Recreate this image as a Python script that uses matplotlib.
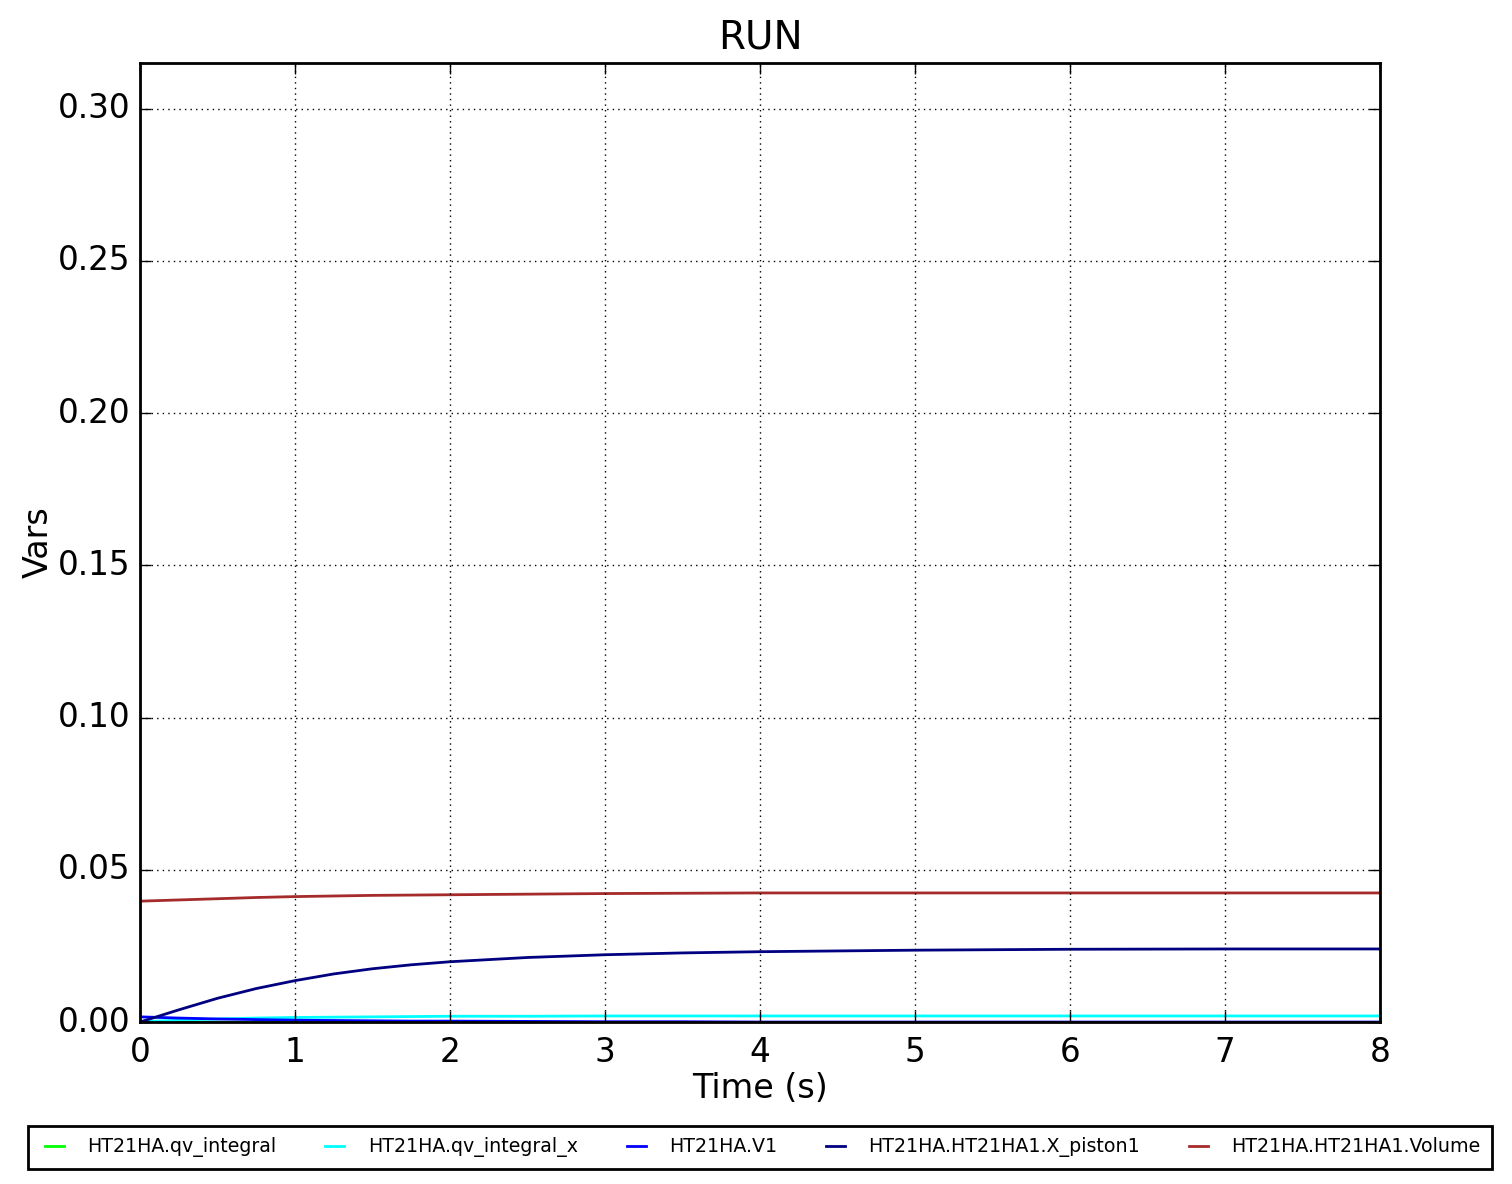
import matplotlib
matplotlib.use("Agg")
import matplotlib.pyplot as plt
from matplotlib.ticker import FormatStrFormatter

plt.style.use("classic")

# sample times (s)
time_s = [0, 0.25, 0.5, 0.75, 1, 1.25, 1.5, 1.75, 2, 2.5, 3, 3.5, 4, 5, 6, 7, 8]

qv_integral = [0] * len(time_s)
qv_integral_x = [0.0001, 0.0006, 0.0010, 0.0013, 0.0015, 0.0016, 0.0017, 0.0018, 0.0019,
                 0.0019, 0.0020, 0.0020, 0.0020, 0.0020, 0.0020, 0.0020, 0.0020]
v1 = [0.0017, 0.0013, 0.0010, 0.0008, 0.0006, 0.0005, 0.0004, 0.0003, 0.0003,
      0.0002, 0.0001, 0.0001, 0.0000, 0.0000, 0.0000, 0.0000, 0.0000]
x_piston1 = [0.0, 0.0040, 0.0078, 0.0110, 0.0136, 0.0158, 0.0175, 0.0188, 0.0198,
             0.0212, 0.0221, 0.0227, 0.0231, 0.0236, 0.0239, 0.0240, 0.0240]
volume = [0.0397, 0.0401, 0.0405, 0.0409, 0.0412, 0.0414, 0.0416, 0.0417, 0.0418,
          0.0420, 0.0422, 0.0423, 0.0424, 0.0424, 0.0424, 0.0424, 0.0424]

series = [
    ("HT21HA.qv_integral", qv_integral, "#00ff00"),
    ("HT21HA.qv_integral_x", qv_integral_x, "#00ffff"),
    ("HT21HA.V1", v1, "#0000ff"),
    ("HT21HA.HT21HA1.X_piston1", x_piston1, "#000080"),
    ("HT21HA.HT21HA1.Volume", volume, "#a52a2a"),
]

fig = plt.figure(figsize=(15.12, 11.84), dpi=100, facecolor="white")
ax = fig.add_axes([0.0926, 0.1368, 0.8201, 0.81])

for label, vals, color in series:
    ax.plot(time_s, vals, color=color, lw=2, label=label)

ax.set_xlim(0, 8)
ax.set_ylim(0, 0.315)
ax.set_yticks([0, 0.05, 0.10, 0.15, 0.20, 0.25, 0.30])
ax.yaxis.set_major_formatter(FormatStrFormatter("%.2f"))
ax.grid(True, ls=":", color="k", lw=1)
ax.tick_params(labelsize=23.5, length=8, width=1)
ax.tick_params(axis="x", pad=10)
ax.tick_params(axis="y", pad=7)
for sp in ax.spines.values():
    sp.set_linewidth(2)

ax.set_title("RUN", fontsize=28, pad=10.5)
ax.set_xlabel("Time (s)", fontsize=24, labelpad=2)
ax.set_ylabel("Vars", fontsize=24, labelpad=2)

leg = ax.legend(loc="center", bbox_to_anchor=(0.5026, 0.031), bbox_transform=fig.transFigure,
                ncol=5, fontsize=13.7, handlelength=1.6, handletextpad=0.93,
                columnspacing=2.26, fancybox=False, frameon=True, borderpad=0.6)
leg.get_frame().set_edgecolor("k")
leg.get_frame().set_linewidth(2)

fig.savefig("out.png", dpi=100, facecolor="white")
